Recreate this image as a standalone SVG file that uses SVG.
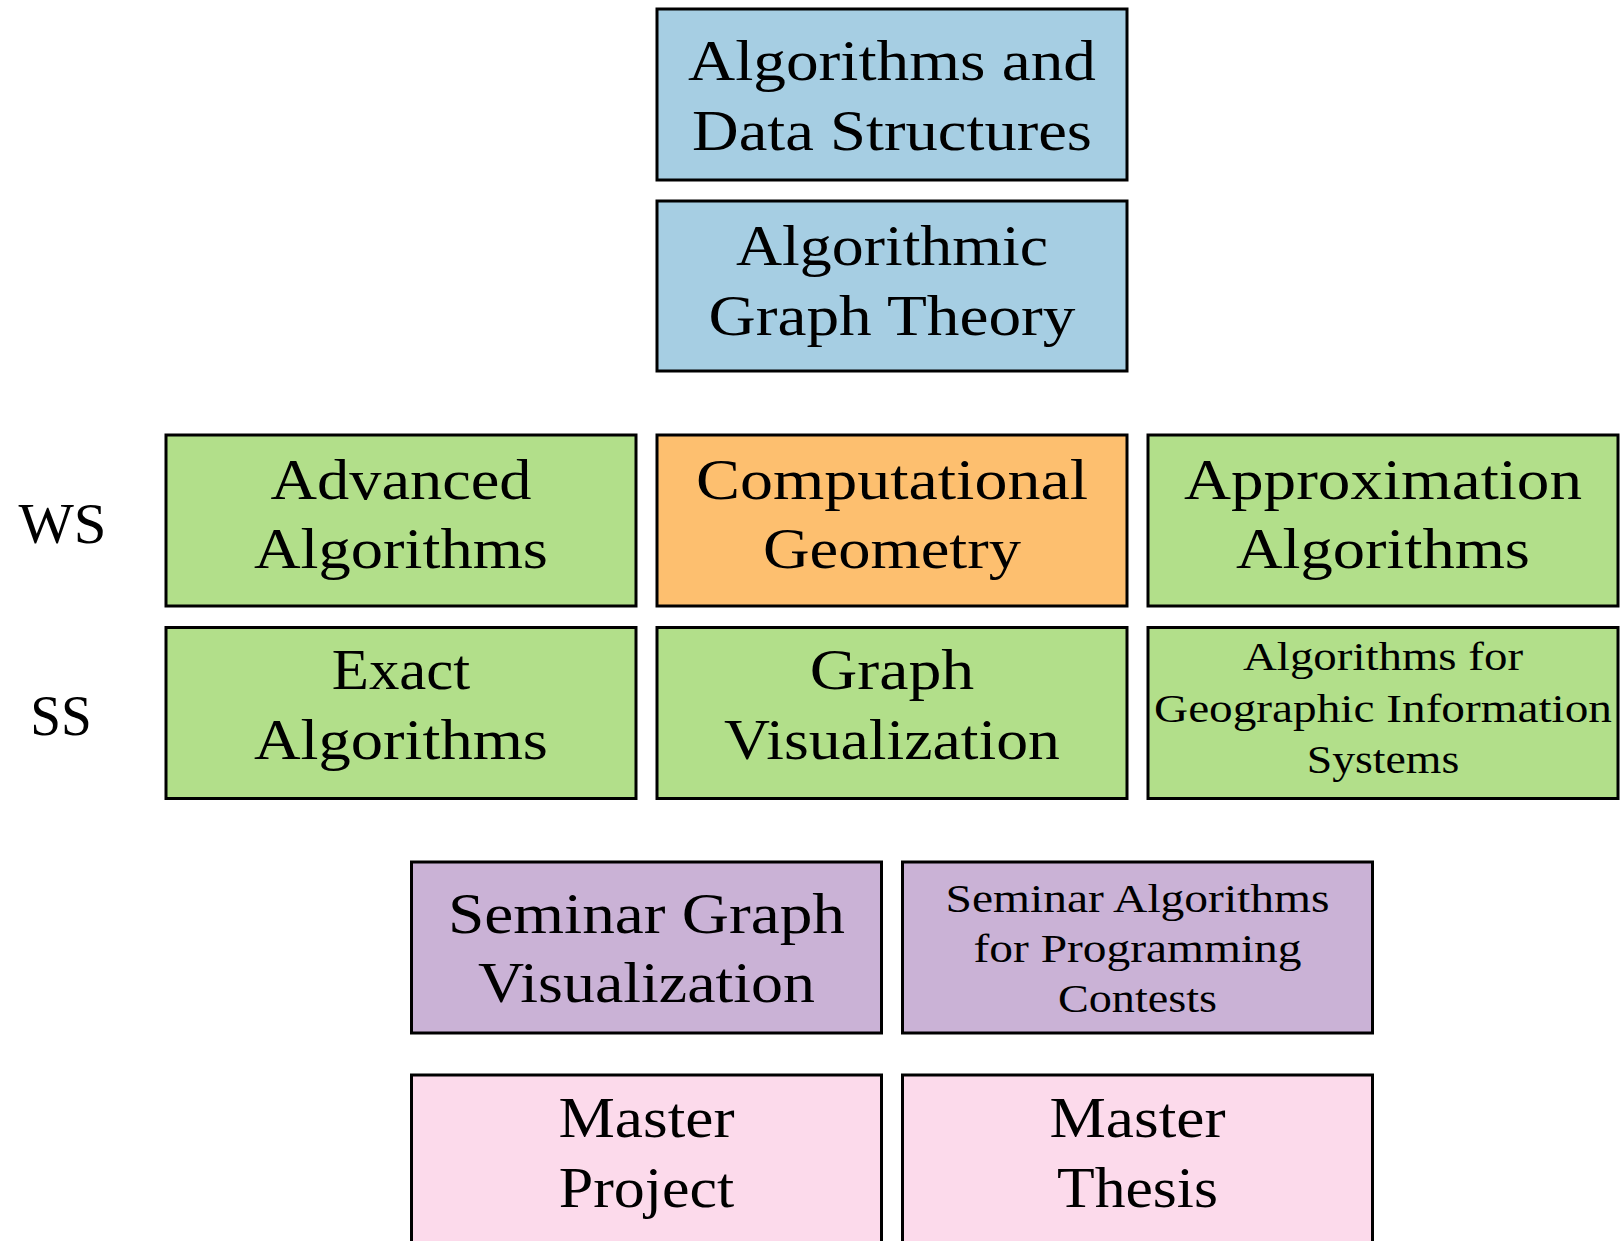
<svg xmlns="http://www.w3.org/2000/svg" width="1621" height="1241" viewBox="0 0 1621 1241">
<style>
rect.box{stroke:#000;stroke-width:3}
.blue{fill:#a6cee3}.green{fill:#b2df8a}.orange{fill:#fdbf6f}.purple{fill:#cab2d6}.pink{fill:#fcdaeb}
text{font-family:"Liberation Serif","Times New Roman",serif;fill:#000;text-anchor:middle}
.L{font-size:57px}.S{font-size:41px}
</style>
<rect width="1621" height="1241" fill="#fff"/>
<g id="connectors"/>
<g id="label-ws"><text class="L" x="62.5" y="543" textLength="88" lengthAdjust="spacingAndGlyphs">WS</text></g>
<g id="label-ss"><text class="L" x="61" y="735" textLength="61.5" lengthAdjust="spacingAndGlyphs">SS</text></g>
<g id="ads"><rect class="box blue" x="657" y="9" width="470" height="171"/>
<text class="L" x="892" y="80" textLength="408" lengthAdjust="spacingAndGlyphs">Algorithms and</text>
<text class="L" x="892" y="150" textLength="400" lengthAdjust="spacingAndGlyphs">Data Structures</text></g>
<g id="agt"><rect class="box blue" x="657" y="201" width="470" height="170"/>
<text class="L" x="892" y="265" textLength="312" lengthAdjust="spacingAndGlyphs">Algorithmic</text>
<text class="L" x="892" y="335" textLength="367" lengthAdjust="spacingAndGlyphs">Graph Theory</text></g>
<g id="adv"><rect class="box green" x="166" y="435" width="470" height="171"/>
<text class="L" x="401" y="499" textLength="261" lengthAdjust="spacingAndGlyphs">Advanced</text>
<text class="L" x="401" y="568" textLength="294" lengthAdjust="spacingAndGlyphs">Algorithms</text></g>
<g id="cg"><rect class="box orange" x="657" y="435" width="470" height="171"/>
<text class="L" x="892" y="499" textLength="392" lengthAdjust="spacingAndGlyphs">Computational</text>
<text class="L" x="892" y="568" textLength="258" lengthAdjust="spacingAndGlyphs">Geometry</text></g>
<g id="approx"><rect class="box green" x="1148" y="435" width="470" height="171"/>
<text class="L" x="1383" y="499" textLength="398" lengthAdjust="spacingAndGlyphs">Approximation</text>
<text class="L" x="1383" y="568" textLength="294" lengthAdjust="spacingAndGlyphs">Algorithms</text></g>
<g id="exact"><rect class="box green" x="166" y="627.5" width="470" height="171"/>
<text class="L" x="401" y="689" textLength="138.5" lengthAdjust="spacingAndGlyphs">Exact</text>
<text class="L" x="401" y="759" textLength="294" lengthAdjust="spacingAndGlyphs">Algorithms</text></g>
<g id="gv"><rect class="box green" x="657" y="627.5" width="470" height="171"/>
<text class="L" x="892" y="689" textLength="164.5" lengthAdjust="spacingAndGlyphs">Graph</text>
<text class="L" x="892" y="759" textLength="336" lengthAdjust="spacingAndGlyphs">Visualization</text></g>
<g id="gis"><rect class="box green" x="1148" y="627.5" width="470" height="171"/>
<text class="S" x="1383" y="670" textLength="280" lengthAdjust="spacingAndGlyphs">Algorithms for</text>
<text class="S" x="1383" y="721.5" textLength="458" lengthAdjust="spacingAndGlyphs">Geographic Information</text>
<text class="S" x="1383" y="773" textLength="152.6" lengthAdjust="spacingAndGlyphs">Systems</text></g>
<g id="sem-gv"><rect class="box purple" x="411.5" y="862" width="470" height="171"/>
<text class="L" x="646.5" y="932.5" textLength="397" lengthAdjust="spacingAndGlyphs">Seminar Graph</text>
<text class="L" x="646.5" y="1002" textLength="337" lengthAdjust="spacingAndGlyphs">Visualization</text></g>
<g id="sem-apc"><rect class="box purple" x="902.5" y="862" width="470" height="171"/>
<text class="S" x="1137.5" y="911.5" textLength="384" lengthAdjust="spacingAndGlyphs">Seminar Algorithms</text>
<text class="S" x="1137.5" y="961.5" textLength="328" lengthAdjust="spacingAndGlyphs">for Programming</text>
<text class="S" x="1137.5" y="1012" textLength="159" lengthAdjust="spacingAndGlyphs">Contests</text></g>
<g id="mp"><rect class="box pink" x="411.5" y="1075" width="470" height="180"/>
<text class="L" x="646.5" y="1137" textLength="176" lengthAdjust="spacingAndGlyphs">Master</text>
<text class="L" x="646.5" y="1207" textLength="175.5" lengthAdjust="spacingAndGlyphs">Project</text></g>
<g id="mt"><rect class="box pink" x="902.5" y="1075" width="470" height="180"/>
<text class="L" x="1137.5" y="1137" textLength="176" lengthAdjust="spacingAndGlyphs">Master</text>
<text class="L" x="1137.5" y="1207" textLength="161" lengthAdjust="spacingAndGlyphs">Thesis</text></g>
</svg>
